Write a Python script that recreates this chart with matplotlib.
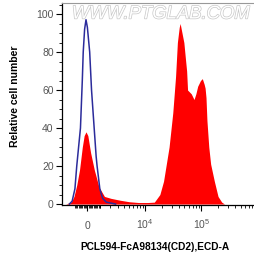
import numpy as np
import matplotlib
matplotlib.use('Agg')
import matplotlib.pyplot as plt
import matplotlib.patheffects as pe

plt.rcParams['font.family'] = ['Liberation Sans', 'DejaVu Sans']
plt.rcParams['mathtext.fontset'] = 'custom'
plt.rcParams['mathtext.rm'] = 'Liberation Sans'
plt.rcParams['mathtext.it'] = 'Liberation Sans:italic'

# control (isotype) histogram, blue outline
ctrl_x = [-1532, -1265, -1012, -854, -698, -546, -398, -325, -216, -108, 0,
          180, 325, 546, 698, 776, 1012, 1265, 1625, 2715]
ctrl_y = [0, 1.5, 8, 20, 30, 40, 65, 80, 92, 97, 93,
          80, 60, 39, 25, 20, 8, 3, 1, 0]

# stained sample histogram, red fill
stain_x = [-1918, -1351, -1095, -854, -622, -398, -252, -108, 36, 252, 546, 933,
           1440, 2130, 3390, 5140, 7610, 11190, 14630, 18370, 21380, 23950,
           26830, 28940, 31220, 34980, 37700, 40650, 42220, 45550, 49130, 52960,
           55050, 57150, 61630, 66480, 71700, 74390, 80290, 86490, 96960, 104500,
           112800, 117100, 121500, 126200, 136100, 146900, 170800, 198600,
           230900, 258700]
stain_y = [0, 1, 4, 10, 18, 30, 36, 38, 36, 27, 18, 9,
           4, 3, 2, 1.2, 0.8, 0.8, 1, 5, 12, 21,
           30, 39, 48, 67, 85, 93, 95, 90, 85, 75,
           70, 60, 59, 58, 56, 55, 58, 62, 65, 66,
           63, 61, 56, 44, 30, 21, 12, 4,
           1, 0]

x_ticks = [0, 1e4, 1e5]
x_labels = ['0', '$10^4$', '$10^5$']
y_ticks = [0, 20, 40, 60, 80, 100]

W = 1905.0  # biexponential-ish width


def fwd(x):
    return np.arcsinh(np.asarray(x, dtype=float) / W)


def inv(y):
    return W * np.sinh(np.asarray(y, dtype=float))


fig = plt.figure(figsize=(2.55, 2.6), dpi=100)
ax = fig.add_axes([62/255, 55/260, 193/255, 202/260])
ax.set_xscale('function', functions=(fwd, inv))

ax.fill_between(stain_x, stain_y, 0, color='#ff0000', lw=0)
ax.plot(ctrl_x, ctrl_y, color='#2b2b9b', lw=1.1)

ax.set_xlim(-2350, 4.9e5)
ax.set_ylim(-0.5, 105.8)

minor = list(np.arange(-1000, 1001, 100))
for dec in [1e3, 1e4, 1e5]:
    minor += [k*dec for k in range(2, 10)]
minor.append(1e3)
ax.set_xticks(x_ticks, labels=x_labels)
ax.set_xticks(minor, minor=True)
ax.set_yticks(y_ticks)
ax.set_yticks(np.arange(0, 106, 5), minor=True)

ax.tick_params(which='major', length=4, width=0.8, color='black',
               labelsize=7.5, labelcolor='#555555')
ax.tick_params(which='minor', length=2, width=0.6, color='black')
ax.tick_params(axis='y', pad=2)
ax.tick_params(axis='x', which='major', pad=13)
for t in ax.xaxis.get_major_ticks():
    t.label1.set_verticalalignment('baseline')

ax.spines['right'].set_visible(False)
ax.spines['top'].set_color('#999999')
ax.spines['left'].set_linewidth(0.9)
ax.spines['bottom'].set_linewidth(0.9)

# watermark, outlined light grey letters
fig.text(161/255, 1 - 14/260, 'WWW.PTGLAB.COM', ha='center', va='center',
         fontsize=13.3, style='italic', color='white',
         path_effects=[pe.withStroke(linewidth=1.0, foreground='#c8c8c8')])

fig.text(15/255, 1 - 96/260, 'Relative cell number', rotation=90,
         ha='center', va='center', fontsize=7.5, fontweight='bold')
fig.text(155/255, 1 - 247/260, 'PCL594-FcA98134(CD2),ECD-A',
         ha='center', va='center', fontsize=7.3, fontweight='bold')

fig.savefig('out.png', dpi=100)
